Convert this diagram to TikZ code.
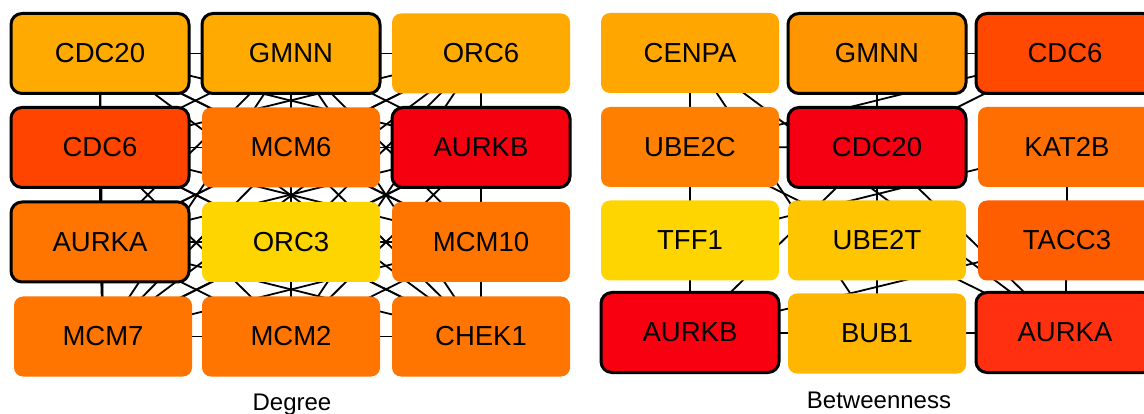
\documentclass[tikz,border=0pt]{standalone}
\usepackage{fontspec}
\setmainfont{Liberation Sans}
\pgfdeclarelayer{bg}
\pgfsetlayers{bg,main}
% left (Degree)
\definecolor{cYel}{HTML}{FFAA00}
\definecolor{cOra}{HTML}{FF7500}
\definecolor{cRedOra}{HTML}{FF4400}
\definecolor{cRed}{HTML}{F5000F}
\definecolor{cGold}{HTML}{FFD500}
% right (Betweenness)
\definecolor{rCENPA}{HTML}{FFA600}
\definecolor{rGMNN}{HTML}{FF9500}
\definecolor{rCDCsix}{HTML}{FF4800}
\definecolor{rUBEC}{HTML}{FF8000}
\definecolor{rCDCtw}{HTML}{F50012}
\definecolor{rKAT}{HTML}{FF6E00}
\definecolor{rTFF}{HTML}{FFD500}
\definecolor{rUBET}{HTML}{FFC500}
\definecolor{rTACC}{HTML}{FF5E00}
\definecolor{rAURKB}{HTML}{F80010}
\definecolor{rBUB}{HTML}{FFB600}
\definecolor{rAURKA}{HTML}{FF3010}
\tikzset{
  gene/.style={rectangle, rounded corners=9pt, minimum width=178pt, minimum height=80pt,
    inner sep=0pt, text=black, font=\fontsize{27.5pt}{30pt}\selectfont},
  hub/.style={gene, draw=black, line width=3pt, rounded corners=11pt},
  edge/.style={line width=1.8pt, black},
  caption/.style={anchor=base, font=\fontsize{24pt}{26pt}\selectfont}
}
\begin{document}
\begin{tikzpicture}[x=1pt,y=-1pt]
\useasboundingbox (0,0) rectangle (1144,414);
% ---------- Degree ----------
\node[hub, fill=cYel]    (l1)  at (100,53.5)  {CDC20};
\node[hub, fill=cYel]    (l2)  at (291,53.5)  {GMNN};
\node[gene, fill=cYel]   (l3)  at (481,53.5)  {ORC6};
\node[hub, fill=cRedOra] (l4)  at (100,147.5) {CDC6};
\node[gene, fill=cOra]   (l5)  at (291,147.5) {MCM6};
\node[hub, fill=cRed]    (l6)  at (481,147.5) {AURKB};
\node[hub, fill=cOra]    (l7)  at (100,242)   {AURKA};
\node[gene, fill=cGold]  (l8)  at (291,242)   {ORC3};
\node[gene, fill=cOra]   (l9)  at (481,242)   {MCM10};
\node[gene, fill=cOra]   (l10) at (103,336.5) {MCM7};
\node[gene, fill=cOra]   (l11) at (291,336.5) {MCM2};
\node[gene, fill=cOra]   (l12) at (481,336.5) {CHEK1};
\node[caption] (degree) at (292,410) {Degree};
% ---------- Betweenness ----------
\node[gene, fill=rCENPA] (r1)  at (690,53)  {CENPA};
\node[hub, fill=rGMNN]   (r2)  at (877,53.5)  {GMNN};
\node[hub, fill=rCDCsix] (r3)  at (1065,53.5) {CDC6};
\node[gene, fill=rUBEC]  (r4)  at (690,147) {UBE2C};
\node[hub, fill=rCDCtw]  (r5)  at (877,147.5) {CDC20};
\node[gene, fill=rKAT]   (r6)  at (1067,147) {KAT2B};
\node[gene, fill=rTFF]   (r7)  at (690,240.5) {TFF1};
\node[gene, fill=rUBET]  (r8)  at (877,240.5) {UBE2T};
\node[gene, fill=rTACC]  (r9)  at (1067,240.5) {TACC3};
\node[hub, fill=rAURKB]  (r10) at (690,332.5) {AURKB};
\node[gene, fill=rBUB]   (r11) at (877,333.5) {BUB1};
\node[hub, fill=rAURKA]  (r12) at (1065,332.5) {AURKA};
\node[caption] (betw) at (879,408) {Betweenness};
% ---------- edges (behind the nodes) ----------
\begin{pgfonlayer}{bg}
\fill[white] (0,0) rectangle (1144,414);
\foreach \i in {1,...,11}{
  \pgfmathtruncatemacro\nxt{\i+1}
  \foreach \j in {\nxt,...,12}{
    \pgfmathtruncatemacro\skipit{and(\i==1, or(\j==8,\j==11))}
    \ifnum\skipit=0
      \draw[edge] (l\i.center) -- (l\j.center);
    \fi
  }
}
\foreach \a/\b in {1/4,4/7,7/10,1/11,1/12,4/5,4/3,4/12,2/3,2/5,5/8,8/11,5/3,
                   7/6,6/9,9/12,10/11,11/12,10/9,10/5,5/12}{
  \draw[edge] (r\a.center) -- (r\b.center);
}
\end{pgfonlayer}
\end{tikzpicture}
\end{document}
